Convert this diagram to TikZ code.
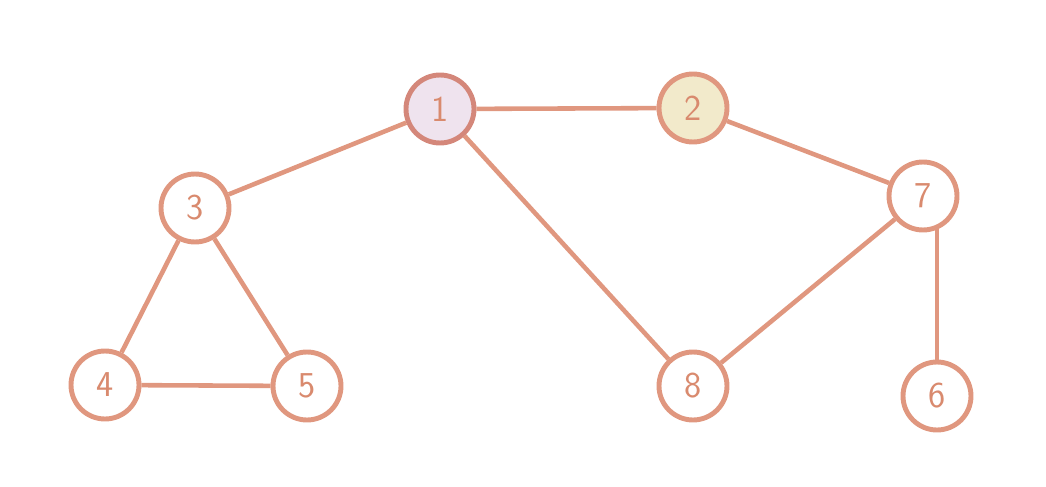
\documentclass[tikz,border=0pt]{standalone}
\usepackage{tikz}
\usetikzlibrary{backgrounds}

\definecolor{linec}{HTML}{E0977F}
\definecolor{darkc}{HTML}{D4877A}
\definecolor{textc}{HTML}{D98A6E}
\definecolor{lilac}{HTML}{EFE3EE}
\definecolor{cream}{HTML}{F2EACB}

\begin{document}
\begin{tikzpicture}[
  font=\sffamily\huge,
  vtx/.style={circle, draw=linec, line width=2.8pt, fill=white, text=textc, minimum size=1.36cm, inner sep=0pt},
  lnk/.style={draw=linec, line width=2.6pt}
]
\useasboundingbox (0,0) rectangle (20.92,9.72);

\node[vtx, fill=lilac, draw=darkc] (n1) at (8.80,7.54) {1};
\node[vtx, fill=cream] (n2) at (13.86,7.56) {2};
\node[vtx] (n3) at (3.90,5.56) {3};
\node[vtx] (n7) at (18.46,5.80) {7};
\node[vtx] (n4) at (2.10,2.02) {4};
\node[vtx] (n5) at (6.14,2.00) {5};
\node[vtx] (n8) at (13.86,2.00) {8};
\node[vtx] (n6) at (18.74,1.80) {6};

\draw[lnk] (n1)--(n2);
\draw[lnk] (n1)--(n3);
\draw[lnk] (n1)--(n8);
\draw[lnk] (n2)--(n7);
\draw[lnk] (n3)--(n4);  \draw[lnk] (n3)--(n5);  \draw[lnk] (n4)--(n5);
\draw[lnk] (n7)--(n8);
\begin{scope}[on background layer]
\draw[lnk] (n6.center) -- (n6 |- n7);
\end{scope}
\end{tikzpicture}
\end{document}
